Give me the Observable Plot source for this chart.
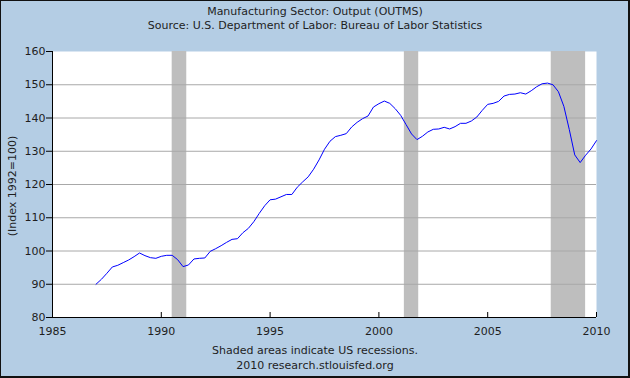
<!DOCTYPE html>
<html>
<head>
<meta charset="utf-8">
<script src="https://cdn.jsdelivr.net/npm/d3@7"></script>
<script src="https://cdn.jsdelivr.net/npm/@observablehq/plot@0.6"></script>
<style>
  html, body { margin: 0; padding: 0; background: #fff; }
  #chart {
    position: relative; width: 630px; height: 378px; overflow: hidden;
    background: #b4cde4; font-family: "DejaVu Sans", Verdana, sans-serif; color: #1e1e1e;
  }
  #chart svg { position: absolute; left: 0; top: 0; }
  .t { position: absolute; left: 0; width: 630px; text-align: center; font-size: 11px; line-height: 14px; white-space: nowrap; }
  #ylab { position: absolute; left: 12px; top: 186px; font-size: 11px; white-space: nowrap;
          transform: translate(-50%, -50%) rotate(-90deg); }
  #border { position: absolute; left: 0; top: 0; width: 630px; height: 378px; box-sizing: border-box;
            border-style: solid; border-color: #111; border-width: 1px 2px 2px 1px; pointer-events: none; }
</style>
</head>
<body>
<div id="chart">
  <div class="t" style="top:5px">Manufacturing Sector: Output (OUTMS)</div>
  <div class="t" style="top:19px">Source: U.S. Department of Labor: Bureau of Labor Statistics</div>
  <div id="ylab">(Index 1992=100)</div>
  <div class="t" style="top:344px">Shaded areas indicate US recessions.</div>
  <div class="t" style="top:359px">2010 research.stlouisfed.org</div>
  <div id="border"></div>
</div>
<script>
// Quarterly index values, starting 1987 Q1
const startYear = 1987;
const outputIndex = [
  90.0, 91.5, 93.3, 95.2,
  95.7, 96.5, 97.3, 98.3,
  99.4, 98.6, 98.0, 97.8,
  98.4, 98.7, 98.7, 97.4,
  95.3, 95.8, 97.6, 97.8,
  97.9, 99.9, 100.7, 101.6,
  102.6, 103.5, 103.7, 105.5,
  106.8, 108.8, 111.3, 113.6,
  115.4, 115.6, 116.3, 117.0,
  117.0, 119.2, 120.8, 122.3,
  124.6, 127.4, 130.6, 133.0,
  134.4, 134.8, 135.3, 137.3,
  138.7, 139.8, 140.6, 143.3,
  144.3, 145.1, 144.4, 142.8,
  140.8, 138.0, 135.2, 133.5,
  134.5, 135.8, 136.6, 136.7,
  137.2, 136.7, 137.4, 138.4,
  138.4, 139.1, 140.3, 142.3,
  144.1, 144.4, 145.0, 146.6,
  147.1, 147.2, 147.6, 147.2,
  148.2, 149.4, 150.3, 150.5,
  150.0, 147.9, 143.5, 136.5,
  128.9, 126.6, 128.8, 130.7,
  133.2
];
const recessionStart = [1990.5, 2001.17, 2007.92];
const recessionEnd   = [1991.17, 2001.83, 2009.5];
const xTicks = [1985, 1990, 1995, 2000, 2005, 2010];
const yTicks = [80, 90, 100, 110, 120, 130, 140, 150, 160];

const data = outputIndex.map((v, i) => ({year: startYear + i / 4, value: v}));
const recessions = recessionStart.map((s, i) => ({start: s, end: recessionEnd[i]}));

const W = 630, H = 378, mT = 51, mB = 61, mL = 52, mR = 34;
const plotH = H - mT - mB;

const chart = Plot.plot({
  width: W, height: H,
  marginTop: mT, marginBottom: mB, marginLeft: mL, marginRight: mR,
  style: {background: "transparent", fontFamily: "'DejaVu Sans', Verdana, sans-serif", fontSize: "11px", color: "#1e1e1e"},
  x: {domain: [1985, 2010]},
  y: {domain: [80, 160]},
  marks: [
    Plot.frame({fill: "white", stroke: null}),
    Plot.rect(recessions, {x1: "start", x2: "end", fill: "#bebebe"}),
    Plot.gridY(yTicks.filter(v => v > 80 && v < 160), {stroke: "#a8a8a8", strokeOpacity: 1, strokeWidth: 1}),
    Plot.line(data, {x: "year", y: "value", stroke: "#0000ff", strokeWidth: 1}),
    Plot.tickX(xTicks.slice(1), {stroke: "#000", insetTop: plotH - 5}),
    Plot.ruleX([1985], {stroke: "#000"}),
    Plot.ruleY([80], {stroke: "#000"}),
    Plot.axisY({ticks: yTicks, tickSize: 6, tickPadding: 1, label: null, tickFormat: d => String(d), stroke: "#000"}),
    Plot.axisX({ticks: xTicks, tickSize: 0, tickPadding: 10, label: null, tickFormat: d => String(d)})
  ]
});
document.getElementById("chart").insertBefore(chart, document.getElementById("border"));
</script>
</body>
</html>
